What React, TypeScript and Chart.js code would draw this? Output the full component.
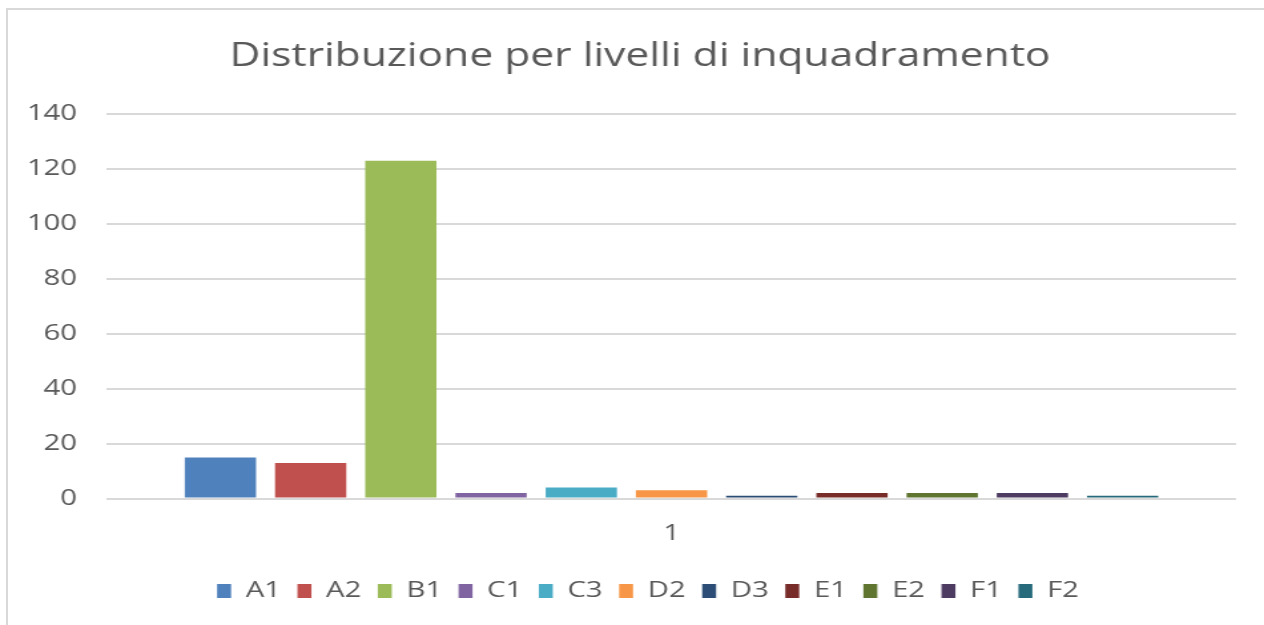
import React, { useEffect, useRef } from 'react';
import { Chart, registerables } from 'chart.js';

Chart.register(...registerables);

// ---- data ----
const categories = ['1'];
const seriesLabels = ['A1', 'A2', 'B1', 'C1', 'C3', 'D2', 'D3', 'E1', 'E2', 'F1', 'F2'];
const seriesValues = [15, 13, 123, 2, 4, 3, 1, 2, 2, 2, 1];
const seriesColors = ['#4f81bd', '#c0504d', '#9bbb59', '#8064a2', '#4bacc6', '#f79646', '#2c4d75', '#772c2a', '#5f7530', '#4d3b62', '#276a7c'];
const yTickValues = [0, 20, 40, 60, 80, 100, 120, 140];
const titleText = 'Distribuzione per livelli di inquadramento';

// ---- rendering setup ----
const PAGE_W = 1264;
const PAGE_H = 625;
const CANVAS_W = 950; // drawn narrower, displayed stretched horizontally like the reference
const FONT = '"Open Sans", "DejaVu Sans", sans-serif';
const TEXT = '#595959';

const layoutTweaks = {
  id: 'layoutTweaks',
  afterLayout(chart: any) {
    // let y tick labels use the space left of the axis box (avoid clipping)
    if (chart.scales.y) chart.scales.y.left = 0;
    if (chart.legend) {
      chart.legend.left += 6;
      chart.legend.right += 6;
    }
  },
};

export default function App() {
  const ref = useRef<HTMLCanvasElement | null>(null);

  useEffect(() => {
    if (!ref.current) return;
    const chart = new Chart(ref.current, {
      type: 'bar',
      data: {
        labels: categories,
        datasets: seriesLabels.map((label, i) => ({
          label,
          data: [seriesValues[i]],
          backgroundColor: seriesColors[i],
          borderWidth: 0,
          categoryPercentage: 0.879,
          barPercentage: 0.79,
        })),
      },
      options: {
        responsive: false,
        animation: false,
        devicePixelRatio: 1,
        layout: { padding: { left: 33, right: 21, top: 0, bottom: 13 } },
        plugins: {
          title: {
            display: true,
            text: titleText,
            color: TEXT,
            font: { family: FONT, size: 32, weight: 'normal', lineHeight: 1.2 },
            padding: { top: 38, bottom: 37.6 },
          },
          legend: {
            position: 'bottom',
            labels: {
              boxWidth: 10.5,
              boxHeight: 14,
              padding: 12.4,
              color: TEXT,
              font: { family: FONT, size: 22 },
            },
          },
          tooltip: { enabled: false },
        },
        scales: {
          x: {
            grid: { display: false, drawTicks: false },
            border: { display: false },
            ticks: { color: TEXT, font: { family: FONT, size: 22 }, padding: 22 },
            afterFit: (s: any) => { s.height = 69; },
          },
          y: {
            min: 0,
            max: 140,
            grid: { color: '#d9d9d9', lineWidth: 2, drawTicks: false },
            border: { display: false },
            ticks: { color: TEXT, font: { family: FONT, size: 22 }, padding: 22.5 },
            afterBuildTicks: (s: any) => { s.ticks = yTickValues.map((v) => ({ value: v })); },
            afterFit: (s: any) => { s.width = 47.4; },
          },
        },
      } as any,
      plugins: [layoutTweaks],
    });
    let alive = true;
    if ((document as any).fonts && (document as any).fonts.ready) {
      (document as any).fonts.ready.then(() => { if (alive) chart.update(); });
    }
    return () => { alive = false; chart.destroy(); };
  }, []);

  return (
    <div style={{ position: 'absolute', left: 0, top: 0, width: PAGE_W, height: PAGE_H, background: '#fff', overflow: 'hidden' }}>
      <canvas
        ref={ref}
        width={CANVAS_W}
        height={PAGE_H}
        style={{ position: 'absolute', left: 0, top: 0, width: PAGE_W + 'px', height: PAGE_H + 'px', display: 'block' }}
      />
      <div
        style={{
          position: 'absolute', left: 6, top: 8, right: -4, bottom: -4,
          borderLeft: '2px solid #d9d9d9', borderTop: '2px solid #d9d9d9', pointerEvents: 'none',
        }}
      />
    </div>
  );
}
